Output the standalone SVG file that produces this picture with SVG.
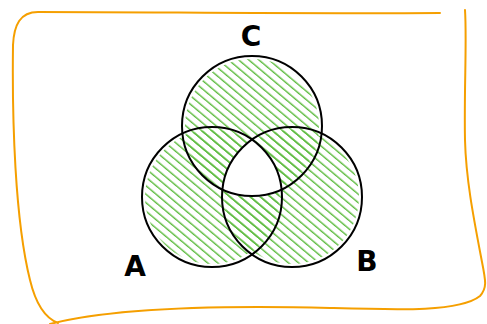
<svg xmlns="http://www.w3.org/2000/svg" width="487" height="324" viewBox="0 0 487 324">
<style>
.ring{fill:none;stroke:#000;stroke-width:2}
.lbl{font-family:"DejaVu Sans","Liberation Sans",sans-serif;font-size:28px;font-weight:bold;fill:#000;text-anchor:middle}
</style>
<defs>
<pattern id="hatch" patternUnits="userSpaceOnUse" width="6.5" height="6.5" patternTransform="rotate(40)">
<line x1="0" y1="3" x2="6.5" y2="3" stroke="#5dbb3f" stroke-width="1.4"/>
</pattern>
<clipPath id="cA"><circle cx="212" cy="197" r="70.5"/></clipPath>
<clipPath id="cB"><circle cx="292" cy="197" r="70.5"/></clipPath>
</defs>
<path id="frame" d="M440 13 C300 14 150 12 38 12 C20 12 14 25 13 45 C12 120 15 220 30 280 C36 305 45 318 58 323 M50 324 C120 306 250 306 330 308 C400 310 460 312 480 296 C487 288 486 282 482 262 C474 220 466 180 465 140 C464 90 467 40 465 10" fill="none" stroke="#f59f00" stroke-width="2" stroke-linecap="round"/>
<g id="shading">
<circle cx="212" cy="197" r="67" fill="url(#hatch)"/>
<circle cx="292" cy="197" r="67" fill="url(#hatch)"/>
<circle cx="252" cy="126" r="67" fill="url(#hatch)"/>
<g clip-path="url(#cA)"><g clip-path="url(#cB)"><circle cx="252" cy="126" r="71" fill="#fff"/></g></g>
</g>
<g id="C"><circle class="ring" cx="252" cy="126" r="70"/><text class="lbl" x="251" y="46">C</text></g>
<g id="A"><circle class="ring" cx="212" cy="197" r="70"/><text class="lbl" x="135" y="276">A</text></g>
<g id="B"><circle class="ring" cx="292" cy="197" r="70"/><text class="lbl" x="367" y="271">B</text></g>
</svg>
